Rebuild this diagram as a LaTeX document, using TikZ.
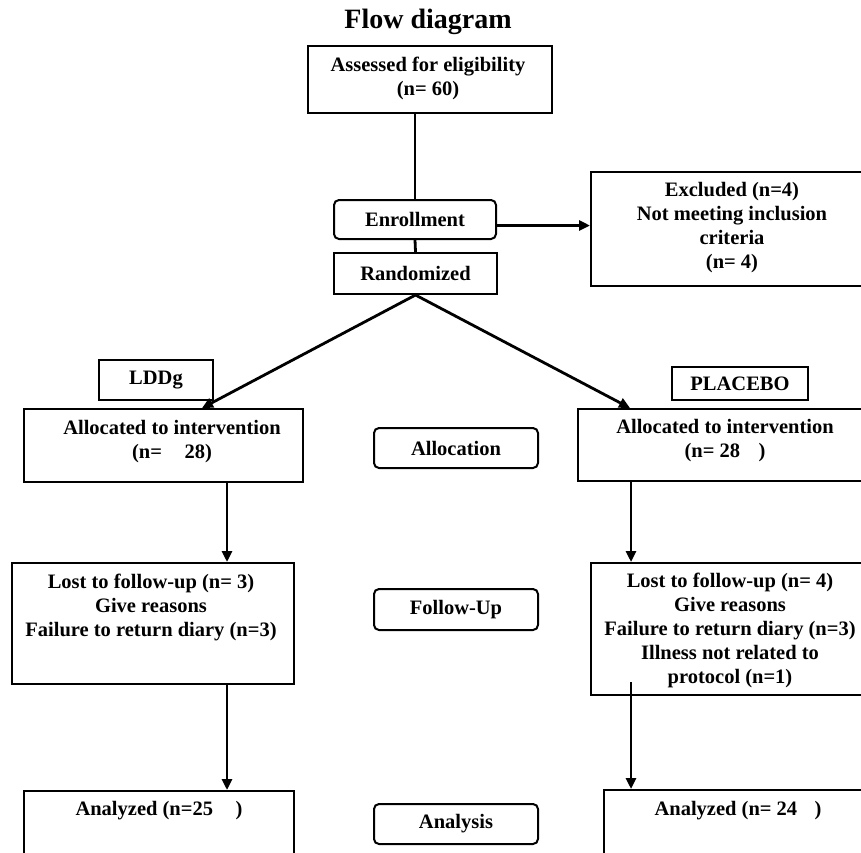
\documentclass[tikz,border=0pt]{standalone}
\usepackage{fontspec}
\setmainfont{Liberation Serif}
\usetikzlibrary{arrows.meta}
\begin{document}
\begin{tikzpicture}[x=1pt,y=-1pt,
  box/.style={draw,line width=2pt,inner sep=0pt,anchor=north west},
  rbox/.style={box,rounded corners=5pt},
  lbl/.style={font=\fontsize{20.5}{24}\selectfont\bfseries,align=center,inner sep=0pt},
  blbl/.style={lbl,anchor=base},
  conn/.style={line width=2.8pt},
  arr/.style={conn,-{Triangle[length=11pt,width=10pt]}}]
\useasboundingbox (0,0) rectangle (861,852);
\node[font=\fontsize{28}{34}\selectfont\bfseries,anchor=base,inner sep=0pt] (title) at (428,28) {Flow diagram};
% boxes
\node[box,minimum width=244pt,minimum height=67pt] (assess) at (307,45) {};
\node[rbox,minimum width=162pt,minimum height=39pt,lbl] (enroll) at (333,199) {Enrollment};
\node[box,minimum width=163pt,minimum height=41pt,lbl] (rand) at (333,252) {Randomized};
\node[box,minimum width=284pt,minimum height=114pt] (excl) at (590,171) {};
\node[box,minimum width=114pt,minimum height=40pt,lbl] (lddg) at (98,359) {LDDg};
\node[box,minimum width=136pt,minimum height=33pt,lbl] (placebo) at (671,366) {PLACEBO};
\node[box,minimum width=279pt,minimum height=73pt] (lalloc) at (23,408) {};
\node[box,minimum width=296pt,minimum height=72pt] (ralloc) at (577,408) {};
\node[rbox,minimum width=164pt,minimum height=40pt,lbl] (allocation) at (373,427) {Allocation};
\node[box,minimum width=282pt,minimum height=121pt] (llost) at (11,562) {};
\node[box,minimum width=280pt,minimum height=132pt] (rlost) at (590,562) {};
\node[rbox,minimum width=164pt,minimum height=41pt,lbl] (followup) at (373,588) {Follow-Up};
\node[box,minimum width=270pt,minimum height=90pt] (lanal) at (23,790) {};
\node[box,minimum width=270pt,minimum height=90pt] (ranal) at (603,789) {};
\node[rbox,minimum width=164pt,minimum height=40pt,lbl] (analysis) at (373,803) {Analysis};
% texts (anchor base = last line's baseline)
\node[blbl] (assessT) at (428,95) {Assessed for eligibility\\(n= 60)};
\node[blbl] (exclT) at (732,268) {Excluded (n=4)\\Not meeting inclusion\\criteria\\(n= 4)};
\node[blbl] (lallocT) at (172,458) {Allocated to intervention\\(n=\hspace{1.1em}28)};
\node[blbl] (rallocT) at (725,457) {Allocated to intervention\\(n= 28\hspace{0.9em})};
\node[blbl] (llostT) at (151,636) {Lost to follow-up (n= 3)\\Give reasons\\Failure to return diary (n=3)};
\node[blbl] (rlostT) at (730,683) {Lost to follow-up (n= 4)\\Give reasons\\Failure to return diary (n=3)\\Illness not related to\\protocol (n=1)};
\node[blbl] (lanalT) at (159,815) {Analyzed (n=25\hspace{1.1em})};
\node[blbl] (ranalT) at (738,815) {Analyzed (n= 24\hspace{0.85em})};
% connectors
\coordinate (ltip) at (202,408);
\coordinate (rtip) at (630,408);
\coordinate (lx) at (227,0);
\coordinate (rx) at (631,0);
\coordinate (rstart) at (631,682);
\draw[conn] (enroll.north |- assess.south) -- (enroll.north);
\draw[conn] (enroll.south) -- (rand.north);
\draw[arr] ([yshift=-6pt]enroll.east) -- ([yshift=-6pt]excl.west |- enroll.east);
\draw[arr] (rand.south) -- (ltip);
\draw[arr] (rand.south) -- (rtip);
\draw[arr] (lalloc.south -| lx) -- (llost.north -| lx);
\draw[arr] (llost.south -| lx) -- (lanal.north -| lx);
\draw[arr] (ralloc.south -| rx) -- (rlost.north -| rx);
\draw[arr] (rstart) -- (ranal.north -| rx);
\end{tikzpicture}
\end{document}
